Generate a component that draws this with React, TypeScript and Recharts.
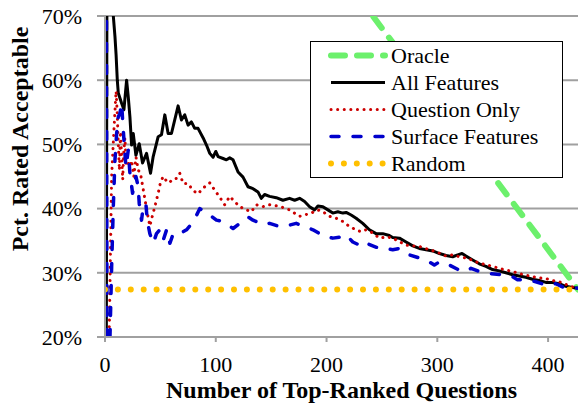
import { CartesianGrid, Label, Line, LineChart, XAxis, YAxis } from 'recharts'

// [number of top-ranked questions, pct rated acceptable]
const ORACLE: [number, number][] = [
  [200, 79.6],
  [427, 27.4],
]

const ALL_FEATURES: [number, number][] = [
  [1, 0], [2, 100], [5, 100], [7.5, 70], [9, 66.8], [10, 64], [11.1, 60], [12, 58],
  [15, 56.4], [17.1, 55.4], [19.5, 60], [21, 57.4], [22.5, 54.3], [24, 49.9], [25.5, 51.7],
  [27.9, 48.3], [30.9, 50.1], [33.9, 47.1], [37.5, 48.6], [41.1, 45.5], [43.5, 48.1],
  [48, 51.2], [51, 51.5], [54, 54.6], [57, 51.7], [60, 51.7], [66, 56], [69, 53.8],
  [72, 54.6], [75, 53], [78, 53.5], [81, 52.5], [84, 52.5], [88.6, 51], [91.6, 49.9],
  [94.6, 48.6], [97.6, 48], [100, 48.9], [102.1, 48.1], [106.6, 47.8], [109.6, 47.6],
  [112.6, 47.9], [115.6, 47.6], [120.1, 45.7], [124.6, 44.9], [129.1, 43.4], [133.6, 43.1],
  [138.1, 42.6], [141.1, 41.6], [144.1, 42.2], [148.6, 41.9], [154.6, 41.7], [160.6, 41.3],
  [166.6, 41.6], [171.2, 41.3], [175.7, 41.6], [180.2, 41.1], [184.7, 40.3], [189.2, 39.8],
  [192.2, 40.4], [196.7, 40.3], [201.2, 39.8], [205.7, 39.3], [210.2, 39.5], [214.7, 39.3],
  [217.7, 39.4], [222.2, 39], [226.7, 38.5], [232.7, 37.7], [238.7, 36.7], [244.7, 36.1],
  [250.7, 36.1], [256.7, 35.8], [259.7, 35.5], [265.8, 35.4], [271.8, 34.8], [277.8, 34.2],
  [283.8, 33.8], [289.9, 33.6], [295.9, 33.4], [301.9, 33], [307.9, 32.7], [313.9, 32.5],
  [318.4, 32.8], [322.3, 33], [325.9, 32.6], [331.9, 32], [337.9, 31.4], [343.9, 31],
  [349.9, 30.5], [355.9, 30.3], [361.9, 30], [367.9, 29.7], [373.9, 29.5], [379.9, 29.3],
  [385.9, 29], [392, 28.8], [398, 28.5], [404, 28.5], [410, 28.3], [416, 27.9], [422, 27.7],
  [427, 27.6],
]

const QUESTION_ONLY: [number, number][] = [
  [2, 0], [6, 45], [8, 52], [10, 58.3], [11, 55], [12, 50], [13, 46], [14, 52], [15, 48],
  [16, 44.5], [17, 49], [18, 51], [19, 47], [20, 48.5], [22, 46], [24, 47.5], [26, 45],
  [28, 48], [30, 46], [32, 45.5], [34, 43.5], [36, 41.5], [38, 39.5], [40.5, 37.3], [43, 39],
  [45, 40.3], [48, 42.4], [50, 44], [52.5, 45], [55.5, 44.3], [58, 44], [61, 44.6],
  [64.5, 44.7], [67.5, 45.5], [70.5, 43.9], [75, 43.9], [79.6, 42.8], [84, 42.3], [88.6, 43.2],
  [94.6, 44], [100.6, 42.5], [105, 41.4], [108, 40.6], [112.6, 41.9], [117, 41.1],
  [121.6, 40.3], [127.6, 39.8], [132, 39.5], [136.6, 40.6], [142.6, 40.3], [148.6, 40.6],
  [156, 40.4], [162, 40.1], [166.6, 39.8], [171, 39.3], [175.7, 38.8], [180, 39], [186, 39.3],
  [192, 39.8], [196.7, 39.5], [202.7, 38.8], [208.7, 38.5], [214.7, 38], [220.7, 37.2],
  [226.7, 36.7], [231, 36.4], [235.7, 36.7], [241.7, 36.2], [247.7, 35.4], [255, 35.6],
  [262, 35.2], [271.8, 34.3], [283.8, 34.1], [291, 33.7], [298.9, 33.3], [307.9, 32.6],
  [314, 32.8], [319.9, 32.5], [325.9, 32.3], [331, 32], [337.9, 31.5], [343, 31.3],
  [349.9, 31], [358, 30.6], [367.9, 30.2], [376, 29.8], [385.9, 29.4], [392, 29.2],
  [398, 29.1], [404, 28.8], [410, 28.6], [416, 28.2], [422, 27.8], [427, 27.6],
]

const SURFACE_FEATURES: [number, number][] = [
  [1, 100], [2, 0], [4.5, 20], [6, 31], [7.5, 40.3], [9, 47.6], [10.5, 51.7], [12, 54.3],
  [13.5, 54.8], [15, 56.4], [15.9, 53.8], [17.1, 50.7], [18.9, 46.5], [21, 49.1], [22.5, 45.5],
  [24.9, 42.4], [26.1, 43.4], [27.9, 45], [30, 43.4], [30.9, 40.8], [33, 38.2], [34.5, 40.3],
  [36.9, 40.8], [38.1, 38.2], [40.5, 36.1], [43.5, 34.6], [46.5, 36.1], [49.5, 36.7],
  [52.6, 35.1], [55.6, 36.7], [58.6, 34.6], [61.6, 36.1], [67.6, 36.1], [73.6, 36.7],
  [79.6, 37.9], [85.6, 40], [90.1, 39.5], [94.6, 39], [100.6, 38.2], [106.6, 38],
  [115.6, 36.9], [121.6, 37.7], [129.1, 38.7], [133.6, 38.2], [142.6, 37.5], [148.6, 37.7],
  [157.6, 37.2], [163.6, 37.3], [172.6, 37.7], [180.2, 37.2], [187.7, 36.7], [196.7, 35.8],
  [205.7, 35.4], [214.7, 35.6], [217.7, 35.9], [223.7, 34.8], [229.7, 34.3], [232.7, 34.8],
  [241.7, 34.2], [247.7, 33.8], [253, 33.8], [259.7, 33.6], [265.8, 33.8], [274.8, 32.8],
  [283.8, 32.3], [292.8, 31.7], [297.3, 31.2], [301.9, 31.7], [310.9, 31.2], [319.9, 30.4],
  [325.9, 30.2], [330.4, 30.7], [337.9, 30.2], [346.9, 29.9], [358.9, 29.7], [367.9, 29.4],
  [372.4, 28.9], [379.9, 29], [388.9, 28.6], [398, 28.1], [406.9, 28.3], [413, 27.8],
  [422, 27.7], [427, 27.6],
]

const RANDOM: [number, number][] = [
  [0, 27.4],
  [427, 27.4],
]

const X_TICKS = [0, 100, 200, 300, 400]
const Y_TICKS = [20, 30, 40, 50, 60, 70]

const FONT = '"Liberation Serif", "Times New Roman", serif'
const GRID = '#a0a0a0'

const SERIES = [
  { name: 'Oracle', points: ORACLE, stroke: '#6cf06c', width: 6, dash: '14 12', cap: 'round' },
  { name: 'All Features', points: ALL_FEATURES, stroke: '#000000', width: 3, dash: undefined, cap: 'butt' },
  { name: 'Question Only', points: QUESTION_ONLY, stroke: '#cc0000', width: 3, dash: '0.1 6.5', cap: 'round' },
  { name: 'Surface Features', points: SURFACE_FEATURES, stroke: '#0000cc', width: 3.5, dash: '8 14', cap: 'round' },
  { name: 'Random', points: RANDOM, stroke: '#ffc000', width: 6, dash: '0 12.9', cap: 'round' },
] as const

const toRows = (points: readonly (readonly [number, number])[]) =>
  points.map(([k, pct]) => ({ k, pct }))

const titleStyle = { fill: '#000', fontSize: 24, fontWeight: 'bold', fontFamily: FONT }

function ChartLegend() {
  return (
    <div
      style={{
        position: 'absolute',
        left: 310,
        top: 41,
        width: 251,
        border: '1.5px solid #000',
        background: '#fff',
        fontFamily: FONT,
        fontSize: 22,
        color: '#000',
      }}
    >
      {SERIES.map((s) => (
        <div
          key={s.name}
          style={{ display: 'flex', alignItems: 'center', height: 27 }}
        >
          <svg width={80} height={27} style={{ flex: 'none' }}>
            <line
              x1={20}
              x2={74}
              y1={13.5}
              y2={13.5}
              stroke={s.stroke}
              strokeWidth={s.width}
              strokeDasharray={s.dash}
              strokeLinecap={s.cap}
            />
          </svg>
          <span style={{ lineHeight: '27px', whiteSpace: 'nowrap' }}>{s.name}</span>
        </div>
      ))}
    </div>
  )
}

export default function App() {
  return (
    <div style={{ position: 'absolute', left: 0, top: 0, width: 579, height: 404, background: '#fff', fontFamily: FONT }}>
      <LineChart width={579} height={404} margin={{ top: 16, right: 1, bottom: 0, left: 0 }}>
        <CartesianGrid vertical={false} stroke={GRID} strokeWidth={2} />
        <XAxis
          dataKey="k"
          type="number"
          domain={[0, 427]}
          ticks={X_TICKS}
          allowDataOverflow
          height={67}
          tickSize={5}
          tickMargin={14}
          axisLine={{ stroke: GRID, strokeWidth: 2 }}
          tickLine={{ stroke: GRID, strokeWidth: 2 }}
          tick={{ fill: '#000', fontSize: 22, fontFamily: FONT }}
        >
          <Label
            value="Number of Top-Ranked Questions"
            position="insideBottom"
            offset={6}
            style={titleStyle}
          />
        </XAxis>
        <YAxis
          type="number"
          domain={[20, 70]}
          ticks={Y_TICKS}
          allowDataOverflow
          width={105}
          tickSize={8}
          tickMargin={15}
          tickFormatter={(v) => `${v}%`}
          axisLine={{ stroke: GRID, strokeWidth: 2 }}
          tickLine={{ stroke: GRID, strokeWidth: 2 }}
          tick={{ fill: '#000', fontSize: 22, fontFamily: FONT }}
        >
          <Label
            content={() => (
              <text
                x={28}
                y={139}
                transform="rotate(-90, 28, 139)"
                textAnchor="middle"
                style={titleStyle}
              >
                Pct. Rated Acceptable
              </text>
            )}
          />
        </YAxis>
        {SERIES.map((s) => (
          <Line
            key={s.name}
            data={toRows(s.points)}
            dataKey="pct"
            name={s.name}
            type="linear"
            stroke={s.stroke}
            strokeWidth={s.width}
            strokeDasharray={s.dash}
            strokeLinecap={s.cap}
            strokeLinejoin="round"
            dot={false}
            activeDot={false}
            isAnimationActive={false}
          />
        ))}
      </LineChart>
      <ChartLegend />
    </div>
  )
}
